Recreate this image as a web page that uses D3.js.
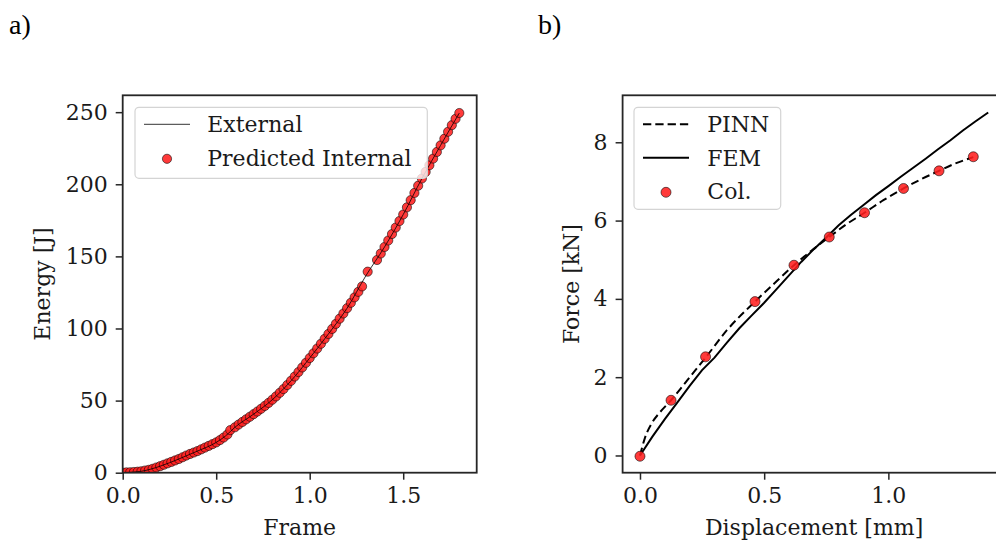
<!DOCTYPE html>
<html><head><meta charset="utf-8">
<script src="https://cdn.jsdelivr.net/npm/d3@7"></script>
<style>body{margin:0;background:#fff}svg{display:block}</style>
</head><body>
<svg id="c" width="996" height="541"></svg>
<script>
// ---- Panel a) data ----
const frameInternal = [0.00,0.02,0.04,0.06,0.08,0.10,0.12,0.14,0.16,0.18,0.20,0.22,0.24,0.26,0.28,0.30,0.32,0.34,0.36,0.38,0.40,0.42,0.44,0.46,0.48,0.50,0.52,0.54,0.56,0.575,0.60,0.62,0.64,0.66,0.68,0.70,0.72,0.74,0.76,0.78,0.80,0.82,0.84,0.86,0.88,0.90,0.92,0.94,0.96,0.98,1.00,1.02,1.04,1.06,1.08,1.10,1.12,1.14,1.16,1.18,1.20,1.22,1.24,1.26,1.28,1.31,1.36,1.38,1.40,1.42,1.44,1.46,1.48,1.50,1.52,1.54,1.56,1.58,1.60,1.62,1.64,1.66,1.68,1.70,1.72,1.74,1.76,1.78,1.80];
const energyInternal = [0.0,0.2,0.3,0.5,0.7,1.0,1.5,2.0,2.7,3.6,4.5,5.5,6.5,7.5,8.5,9.5,10.7,11.9,13.0,14.0,15.0,16.2,17.4,18.6,19.8,21.0,22.6,24.4,26.5,29.5,31.5,33.4,35.2,37.0,38.8,40.6,42.4,44.3,46.3,48.4,50.6,52.9,55.4,58.0,60.8,63.7,66.7,69.8,73.0,76.2,79.5,82.8,86.1,89.4,92.8,96.2,99.7,103.2,106.8,110.4,114.1,117.8,121.6,125.4,129.2,139.4,147.5,152.0,156.5,161.0,165.5,170.0,174.5,179.0,184.0,189.0,194.0,199.0,204.0,208.6,213.2,217.8,222.4,227.0,231.6,236.4,241.0,245.4,249.4];
const frameExternal = [0.00,0.10,0.20,0.30,0.40,0.50,0.55,0.60,0.70,0.80,0.90,1.00,1.10,1.20,1.30,1.40,1.50,1.60,1.70,1.80];
const energyExternal = [0.0,1.0,4.5,9.5,15.0,21.0,25.5,31.5,40.6,50.6,63.7,79.5,96.2,114.1,136.5,156.5,179.0,204.0,227.0,249.4];
const xTicksA = [0.0,0.5,1.0,1.5];
const yTicksA = [0,50,100,150,200,250];

// ---- Panel b) data ----
const dispPINN = [0.00,0.02,0.05,0.08,0.125,0.20,0.264,0.35,0.463,0.55,0.62,0.69,0.762,0.83,0.904,0.98,1.061,1.13,1.204,1.27,1.342];
const forcePINN = [0.00,0.45,0.85,1.10,1.41,2.00,2.50,3.20,3.93,4.45,4.86,5.23,5.58,5.90,6.20,6.52,6.82,7.05,7.27,7.46,7.62];
const dispFEM = [0.00,0.05,0.10,0.15,0.20,0.25,0.30,0.35,0.40,0.45,0.50,0.55,0.60,0.65,0.70,0.75,0.80,0.85,0.90,0.95,1.00,1.05,1.10,1.15,1.20,1.25,1.30,1.35,1.402];
const forceFEM = [0.00,0.48,0.93,1.35,1.78,2.18,2.50,2.88,3.25,3.58,3.90,4.25,4.60,4.95,5.27,5.57,5.88,6.15,6.40,6.65,6.88,7.12,7.35,7.58,7.82,8.05,8.30,8.53,8.76];
const dispCol = [0.00,0.125,0.264,0.463,0.62,0.762,0.904,1.061,1.204,1.342];
const forceCol = [-0.02,1.41,2.52,3.93,4.86,5.58,6.20,6.82,7.27,7.63];
const xTicksB = [0.0,0.5,1.0];
const yTicksB = [0,2,4,6,8];

const svg = d3.select('#c');
svg.append('rect').attr('width',996).attr('height',541).attr('fill','#fff');
const FONT = 'DejaVu Serif';
const FS = 22;
const AX = '#262626';
const RED = '#ff1f1f';

function panel(o){
  const g = svg.append('g');
  const x = d3.scaleLinear().domain(o.xd).range([o.l, o.r]);
  const y = d3.scaleLinear().domain(o.yd).range([o.b, o.t]);
  const clipId = 'clip'+o.id;
  svg.append('clipPath').attr('id',clipId).append('rect')
    .attr('x',o.l).attr('y',o.t).attr('width',o.r-o.l).attr('height',o.b-o.t);
  const plot = g.append('g').attr('clip-path',`url(#${clipId})`);
  o.draw(plot, x, y);
  const xa = g.append('g').attr('transform',`translate(0,${o.b})`)
    .call(d3.axisBottom(x).tickValues(o.xt).tickFormat(d3.format('.1f')).tickSize(7).tickPadding(8));
  const ya = g.append('g').attr('transform',`translate(${o.l},0)`)
    .call(d3.axisLeft(y).tickValues(o.yt).tickFormat(d3.format('d')).tickSize(7).tickPadding(8));
  [xa,ya].forEach(a=>{
    a.select('.domain').remove();
    a.selectAll('line').attr('stroke',AX).attr('stroke-width',1.5);
    a.selectAll('text').attr('font-family',FONT).attr('font-size',FS).attr('fill','#1a1a1a');
  });
  g.append('rect').attr('x',o.l).attr('y',o.t).attr('width',o.r-o.l).attr('height',o.b-o.t)
    .attr('fill','none').attr('stroke',AX).attr('stroke-width',1.8);
  g.append('text').attr('x',(o.l+o.r)/2).attr('y',535).attr('text-anchor','middle')
    .attr('font-family',FONT).attr('font-size',FS).attr('fill','#1a1a1a').text(o.xl);
  g.append('text').attr('transform',`translate(${o.ylx},${(o.t+o.b)/2}) rotate(-90)`).attr('text-anchor','middle')
    .attr('font-family',FONT).attr('font-size',FS).attr('fill','#1a1a1a').text(o.yl);
  const lg = g.append('g');
  lg.append('rect').attr('x',o.leg.x).attr('y',o.leg.y).attr('width',o.leg.w).attr('height',o.leg.h)
    .attr('rx',4).attr('fill','#fff').attr('fill-opacity',0.8).attr('stroke','#d4d4d4').attr('stroke-width',1.2);
  o.leg.items.forEach((it,i)=>{
    const cy = o.leg.y + o.leg.first + i*o.leg.step;
    if(it.type==='line'){
      lg.append('line').attr('x1',o.leg.x+9).attr('x2',o.leg.x+9+o.leg.len).attr('y1',cy).attr('y2',cy)
        .attr('stroke',it.color).attr('stroke-width',it.w).attr('stroke-dasharray',it.dash||null);
    } else {
      lg.append('circle').attr('cx',o.leg.x+9+o.leg.len/2).attr('cy',cy+1).attr('r',it.r)
        .attr('fill',RED).attr('fill-opacity',0.88).attr('stroke','#000').attr('stroke-opacity',0.7).attr('stroke-width',0.8);
    }
    lg.append('text').attr('x',o.leg.tx).attr('y',cy).attr('dy','0.35em')
      .attr('font-family',FONT).attr('font-size',FS).attr('fill','#1a1a1a').text(it.label);
  });
}

panel({id:'a', l:122.7, r:476.7, t:95.3, b:472.7, xd:[0,1.893], yd:[0,261.7], xt:xTicksA, yt:yTicksA,
  xl:'Frame', yl:'Energy [J]', ylx:50,
  draw:(p,x,y)=>{
    p.selectAll('circle').data(frameInternal).join('circle')
      .attr('cx',d=>x(d)).attr('cy',(d,i)=>y(energyInternal[i])).attr('r',4.6)
      .attr('fill',RED).attr('fill-opacity',0.88).attr('stroke','#000').attr('stroke-opacity',0.7).attr('stroke-width',0.8);
    p.append('path').datum(frameExternal.map((d,i)=>[d,energyExternal[i]]))
      .attr('d',d3.line().x(d=>x(d[0])).y(d=>y(d[1])).curve(d3.curveMonotoneX))
      .attr('fill','none').attr('stroke','#000').attr('stroke-width',0.8);
  },
  leg:{x:135,y:107.3,w:292.3,h:71,first:17,step:33.5,len:46,tx:207.3,items:[
    {type:'line',label:'External',color:'#000',w:0.8},
    {type:'dot',label:'Predicted Internal',r:4.6}]}
});

panel({id:'b', l:622.6, r:1005.6, t:95.3, b:472.7, xd:[-0.070,1.472], yd:[-0.44,9.20], xt:xTicksB, yt:yTicksB,
  xl:'Displacement [mm]', yl:'Force [kN]', ylx:579,
  draw:(p,x,y)=>{
    const ln = d3.line().x(d=>x(d[0])).y(d=>y(d[1]));
    p.append('path').datum(dispFEM.map((d,i)=>[d,forceFEM[i]])).attr('d',ln)
      .attr('fill','none').attr('stroke','#000').attr('stroke-width',2);
    p.append('path').datum(dispPINN.map((d,i)=>[d,forcePINN[i]])).attr('d',ln.curve(d3.curveMonotoneX))
      .attr('fill','none').attr('stroke','#000').attr('stroke-width',2).attr('stroke-dasharray','8,4.2');
    p.selectAll('circle').data(dispCol).join('circle')
      .attr('cx',d=>x(d)).attr('cy',(d,i)=>y(forceCol[i])).attr('r',5)
      .attr('fill',RED).attr('fill-opacity',0.88).attr('stroke','#000').attr('stroke-opacity',0.7).attr('stroke-width',0.8);
  },
  leg:{x:634,y:107.3,w:146.7,h:102,first:17,step:33.5,len:46,tx:707.3,items:[
    {type:'line',label:'PINN',color:'#000',w:2,dash:'8.3,4'},
    {type:'line',label:'FEM',color:'#000',w:2},
    {type:'dot',label:'Col.',r:5}]}
});

svg.append('text').attr('x',9).attr('y',34).attr('font-family','Liberation Serif').attr('font-size',28).attr('fill','#000').text('a)');
svg.append('text').attr('x',538).attr('y',34).attr('font-family','Liberation Serif').attr('font-size',28).attr('fill','#000').text('b)');
</script>
</body></html>
